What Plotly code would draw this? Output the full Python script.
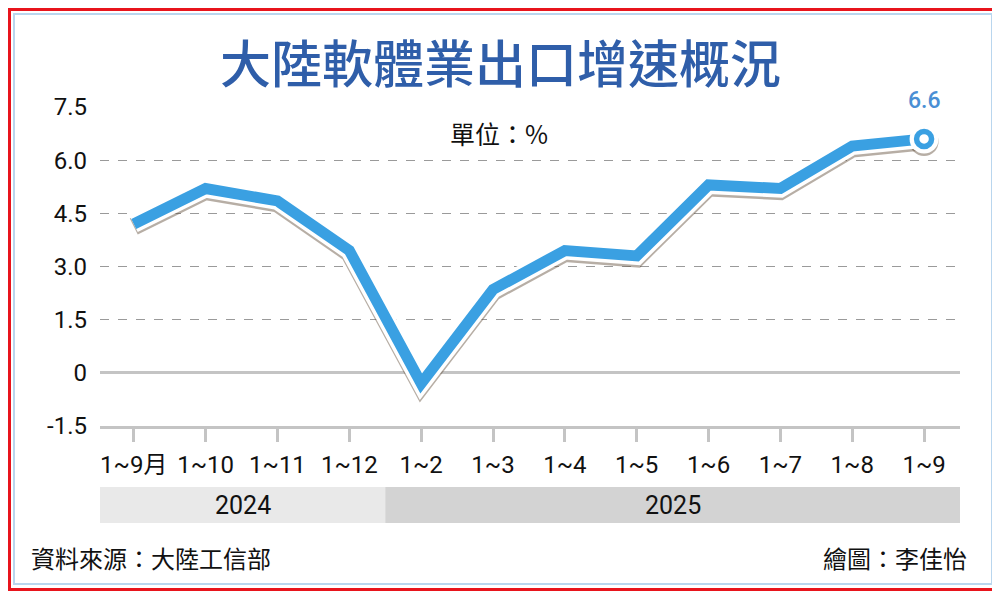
import plotly.graph_objects as go

categories = ["1~9月", "1~10", "1~11", "1~12", "1~2", "1~3", "1~4", "1~5", "1~6", "1~7", "1~8", "1~9"]
values = [4.2, 5.2, 4.85, 3.45, -0.3, 2.35, 3.45, 3.3, 5.3, 5.2, 6.4, 6.6]
y_ticks = [-1.5, 0, 1.5, 3.0, 4.5, 6.0, 7.5]
y_ticktext = ["-1.5", "0", "1.5", "3.0", "4.5", "6.0", "7.5"]
years = ["2024", "2025"]
year_split = 3.5  # boundary between 1~12 and 1~2

FONT = "Roboto, 'Noto Sans CJK TC', sans-serif"
CJK = "'Noto Sans CJK TC', sans-serif"
BLUE = "#3aa0e2"

# browser body margin offsets the figure by 8px; plot area in page pixels: x 100..960, y 107..426
OFF = 8
PL, PR, PT, PB = 100, 960, 107, 426
W, H = 1000 - OFF, 591 - OFF


def px(X):
    return (X - PL) / (PR - PL)


def py(Y):
    return (PB - Y) / (PB - PT)


xr = [-0.47, 11.5]
yr = [-1.5, 7.5]
dy = 2.5 / (PB - PT) * (yr[1] - yr[0])

fig = go.Figure()

# invisible base trace so the main subplot exists
fig.add_trace(go.Scatter(x=categories, y=values, mode="lines", xaxis="x", yaxis="y",
                         line=dict(color="rgba(0,0,0,0)", width=0),
                         hoverinfo="skip", showlegend=False))
# shadow (on a shifted overlay axis)
fig.add_trace(go.Scatter(x=categories, y=values, mode="lines", xaxis="x", yaxis="y2",
                         line=dict(color="rgba(95,75,55,0.45)", width=18),
                         hoverinfo="skip", showlegend=False))
fig.add_trace(go.Scatter(x=[categories[-1]], y=[values[-1]], mode="markers", xaxis="x", yaxis="y2",
                         marker=dict(size=29, color="rgba(95,75,55,0.45)", line=dict(width=0)),
                         hoverinfo="skip", showlegend=False))
# white outline
fig.add_trace(go.Scatter(x=categories, y=values, mode="lines", xaxis="x", yaxis="y3",
                         line=dict(color="white", width=18),
                         hoverinfo="skip", showlegend=False))
# main line
fig.add_trace(go.Scatter(x=categories, y=values, mode="lines", xaxis="x", yaxis="y3",
                         line=dict(color=BLUE, width=11),
                         showlegend=False))
# last point marker
fig.add_trace(go.Scatter(x=[categories[-1]], y=[values[-1]], mode="markers", xaxis="x", yaxis="y3",
                         marker=dict(size=29, color="white", line=dict(width=0)),
                         hoverinfo="skip", showlegend=False))
fig.add_trace(go.Scatter(x=[categories[-1]], y=[values[-1]], mode="markers", xaxis="x", yaxis="y3",
                         marker=dict(size=15, color="white", line=dict(color=BLUE, width=5.5)),
                         showlegend=False))

fig.update_layout(
    width=W, height=H,
    margin=dict(l=PL - OFF, r=W - (PR - OFF), t=PT - OFF, b=H - (PB - OFF), pad=0),
    paper_bgcolor="white", plot_bgcolor="white",
    xaxis=dict(type="category", range=xr, showgrid=False,
               showline=True, linecolor="#c4c4c4", linewidth=3,
               ticks="outside", ticklen=13, tickwidth=3, tickcolor="#c4c4c4",
               tickfont=dict(family=FONT, size=24, color="#111"),
               ticklabelstandoff=2, fixedrange=True),
    yaxis=dict(range=yr, tickvals=y_ticks, ticktext=y_ticktext,
               showgrid=True, gridcolor="#9a9a9a", griddash="dash", gridwidth=1,
               zeroline=True, zerolinecolor="#c4c4c4", zerolinewidth=3,
               showline=False, ticks="",
               tickfont=dict(family=FONT, size=24, color="#111"),
               ticklabelstandoff=12, fixedrange=True),
    yaxis2=dict(range=[yr[0] + dy, yr[1] + dy], overlaying="y", anchor="x",
                visible=False, fixedrange=True),
    yaxis3=dict(range=yr, overlaying="y", anchor="x", visible=False, fixedrange=True),
)

# value label of the last point
fig.add_annotation(x=categories[-1], y=values[-1], xref="x", yref="y3", yshift=38,
                   xanchor="center", yanchor="middle",
                   text=f"{values[-1]:.1f}", showarrow=False,
                   font=dict(family=FONT, size=23, color="#4a8fd4", weight=500))

# year bands
split = (year_split - xr[0]) / (xr[1] - xr[0])
fig.add_shape(type="rect", xref="paper", yref="paper", x0=0, x1=split,
              y0=py(523), y1=py(487), fillcolor="#e9e9e9", line=dict(width=0), layer="below")
fig.add_shape(type="rect", xref="paper", yref="paper", x0=split, x1=1,
              y0=py(523), y1=py(487), fillcolor="#d3d3d3", line=dict(width=0), layer="below")
fig.add_annotation(x=split / 2, xref="paper", y=py(505), yref="paper", text=years[0],
                   xanchor="center", yanchor="middle",
                   showarrow=False, font=dict(family=FONT, size=25, color="#111"))
fig.add_annotation(x=(split + 1) / 2, xref="paper", y=py(505), yref="paper", text=years[1],
                   xanchor="center", yanchor="middle",
                   showarrow=False, font=dict(family=FONT, size=25, color="#111"))

# title, unit, footer
fig.add_annotation(x=px(500), y=py(61), xref="paper", yref="paper", text="大陸軟體業出口增速概況",
                   xanchor="center", yanchor="middle",
                   showarrow=False, font=dict(family=CJK, size=51, color="#2f5ea9", weight=500))
fig.add_annotation(x=px(499), y=py(133), xref="paper", yref="paper", text="單位：%",
                   xanchor="center", yanchor="middle",
                   showarrow=False, font=dict(family=CJK, size=25, color="#111"))
fig.add_annotation(x=px(29), y=py(557), xref="paper", yref="paper", xanchor="left", yanchor="middle",
                   text="資料來源：大陸工信部", showarrow=False,
                   font=dict(family=CJK, size=24, color="#111"))
fig.add_annotation(x=px(969), y=py(557), xref="paper", yref="paper", xanchor="right", yanchor="middle",
                   text="繪圖：李佳怡", showarrow=False,
                   font=dict(family=CJK, size=24, color="#111"))

# frame
fig.add_shape(type="rect", xref="paper", yref="paper", x0=px(9.5), x1=px(998.5), y0=py(589.5), y1=py(9.5),
              line=dict(color="#e8141c", width=3), layer="above")
fig.add_shape(type="rect", xref="paper", yref="paper", x0=px(14), x1=px(992), y0=py(584), y1=py(14),
              line=dict(color="#b9d6ee", width=2), layer="above")

fig.write_html("out.html")
